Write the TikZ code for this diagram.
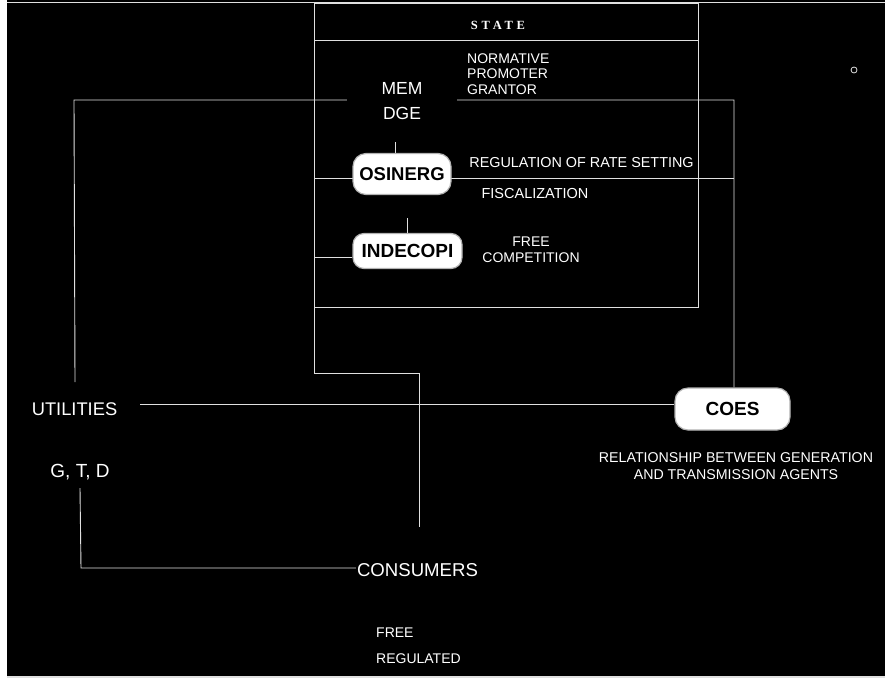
\documentclass[tikz,border=0pt]{standalone}
\usepackage{fontspec}
\setmainfont{Liberation Sans}
\newfontfamily\statefont[LetterSpace=30]{Liberation Serif}
\usetikzlibrary{backgrounds}
\begin{document}
\begin{tikzpicture}[x=1pt,y=-1pt,
  lbl/.style={text=white, inner sep=1pt, font=\fontsize{14}{15.5}\selectfont},
  big/.style={text=white, inner sep=1pt, font=\fontsize{18.5}{25}\selectfont},
  blob/.style={fill=white, draw=white!70!black, line width=1.2pt, rounded corners=13pt, text=black, inner sep=0pt},
  wire/.style={draw=white!88!black, line width=0.9pt}]
\useasboundingbox (0,0) rectangle (885,678);

% nodes
\node[lbl, font={\statefont\bfseries\fontsize{12.5}{14}\selectfont}] (state) at (498,25) {STATE};
\node[lbl, anchor=west, align=left] (roles) at (466,74) {NORMATIVE\\PROMOTER\\GRANTOR};
\node[big, fill=black, minimum width=110, align=center, font=\fontsize{17.5}{25}\selectfont] (memdge) at (402,101) {MEM\\DGE};
\node[blob, minimum width=98, minimum height=41, font=\fontsize{18.5}{20}\selectfont\bfseries] (osinerg) at (402,174) {OSINERG};
\node[blob, minimum width=109, minimum height=35, rounded corners=11pt, font=\fontsize{19}{20}\selectfont\bfseries] (indecopi) at (407.5,251) {INDECOPI};
\node[blob, minimum width=115, minimum height=42, font=\fontsize{19}{20}\selectfont\bfseries] (coes) at (732.5,409) {COES};
\node[lbl, font=\fontsize{14.4}{16}\selectfont] (rate) at (581.5,163) {REGULATION OF RATE SETTING};
\node[lbl, font=\fontsize{14.5}{16}\selectfont] (fisc) at (535,194) {FISCALIZATION};
\node[lbl, align=center, font=\fontsize{14}{16}\selectfont] (freecomp) at (531,250) {FREE\\COMPETITION};
\node[lbl, align=center, font=\fontsize{14.2}{17}\selectfont] (coesdesc) at (736,466.5) {RELATIONSHIP BETWEEN GENERATION\\AND TRANSMISSION AGENTS};
\node[big, font=\fontsize{18.3}{20}\selectfont] (util) at (74.5,409) {UTILITIES};
\node[big, font=\fontsize{19}{20}\selectfont] (gtd) at (80,472) {G, T, D};
\node[big, font=\fontsize{18.6}{20}\selectfont] (cons) at (417.5,570) {CONSUMERS};
\node[lbl, anchor=west, align=left, font=\fontsize{14}{26}\selectfont] (freereg) at (375,646) {FREE\\REGULATED};
\node[draw=white!88!black, line width=0.8pt, circle, minimum size=6, inner sep=0pt] (dot) at (854,70) {};

% coordinates
\coordinate (sTL) at (314,3);
\coordinate (sTR) at (698,3);
\coordinate (sBR) at (698,307);
\coordinate (sBL) at (314,307);
\coordinate (sHL) at (314,40);
\coordinate (fA) at (314,373);
\coordinate (fB) at (419,373);
\coordinate (fC) at (419,527);
\coordinate (lA) at (75,382);
\coordinate (lB) at (74,100);
\coordinate (lC) at (734,100);
\coordinate (oA) at (314,178);
\coordinate (iA) at (314,257);
\coordinate (t1) at (395,142);
\coordinate (t2) at (407,218);
\coordinate (lD) at (80,488);
\coordinate (lE) at (81,568);
\coordinate (uA) at (140,404);

\begin{pgfonlayer}{background}
\fill[black] (0,0) rectangle (885,678);
\fill[white] (0,0) rectangle (7,678);
\draw[wire] (7,2) -- (885,2);
\draw[wire, line width=1.5pt] (7,677) -- (885,677);
% state frame
\draw[wire] (sTL) -- (sTR) -- (sBR) -- (sBL);
\draw[wire] (sHL) -- (sHL -| sTR);
\draw[wire] (sTL) -- (fA) -- (fB) -- (fC);
% long connector to COES
\draw[wire] (lA) -- (lB) -- (lC) -- (lC |- coes.north);
% OSINERG line
\draw[wire] (oA) -- (oA -| lC);
% INDECOPI line
\draw[wire] (iA) -- (iA -| indecopi.west);
% ticks
\draw[wire] (t1) -- (t1 |- osinerg.north);
\draw[wire] (t2) -- (t2 |- indecopi.north);
% consumers
\draw[wire] (lD) -- (lE) -- (lE -| cons.west);
% utilities to COES
\draw[wire] (uA) -- (uA -| coes.west);
\end{pgfonlayer}
\end{tikzpicture}
\end{document}
